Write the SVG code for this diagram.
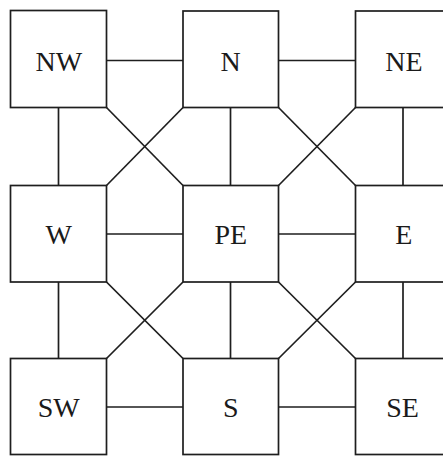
<svg xmlns="http://www.w3.org/2000/svg" width="443" height="456" viewBox="0 0 443 456">
<style>
.box{fill:#fff;stroke:#1e1e1e;stroke-width:1.7}
.lbl{font-family:"Liberation Serif","Times New Roman",serif;font-size:28px;fill:#1a1a1a;text-anchor:middle}
.c line{stroke:#1e1e1e;stroke-width:1.7}
</style>
<rect width="443" height="456" fill="#fff"/>
<g id="connectors" class="c">
<line x1="106.5" y1="60.5" x2="183" y2="60.5"/>
<line x1="278.5" y1="60.5" x2="355.5" y2="60.5"/>
<line x1="106.5" y1="234" x2="183" y2="234"/>
<line x1="278.5" y1="234" x2="355.5" y2="234"/>
<line x1="106.5" y1="407" x2="183" y2="407"/>
<line x1="278.5" y1="407" x2="355.5" y2="407"/>
<line x1="58.5" y1="107.5" x2="58.5" y2="185.5"/>
<line x1="230.5" y1="107.5" x2="230.5" y2="185.5"/>
<line x1="403" y1="107.5" x2="403" y2="185.5"/>
<line x1="58.5" y1="282" x2="58.5" y2="358.5"/>
<line x1="230.5" y1="282" x2="230.5" y2="358.5"/>
<line x1="403" y1="282" x2="403" y2="358.5"/>
<line x1="106.5" y1="107.5" x2="183" y2="185.5"/>
<line x1="183" y1="107.5" x2="106.5" y2="185.5"/>
<line x1="278.5" y1="107.5" x2="355.5" y2="185.5"/>
<line x1="355.5" y1="107.5" x2="278.5" y2="185.5"/>
<line x1="106.5" y1="282" x2="183" y2="358.5"/>
<line x1="183" y1="282" x2="106.5" y2="358.5"/>
<line x1="278.5" y1="282" x2="355.5" y2="358.5"/>
<line x1="355.5" y1="282" x2="278.5" y2="358.5"/>
</g>
<g id="NW"><rect class="box" x="10.5" y="10.5" width="96" height="97"/><text class="lbl" x="58.8" y="70.5">NW</text></g>
<g id="N"><rect class="box" x="183" y="11" width="95.5" height="96.5"/><text class="lbl" x="230.7" y="70.5">N</text></g>
<g id="NE"><rect class="box" x="355.5" y="11" width="100" height="96.5"/><text class="lbl" x="404" y="70.5">NE</text></g>
<g id="W"><rect class="box" x="10.5" y="185.5" width="96" height="96.5"/><text class="lbl" x="58.8" y="243.5">W</text></g>
<g id="PE"><rect class="box" x="183" y="185.5" width="95.5" height="96.5"/><text class="lbl" x="230.8" y="244">PE</text></g>
<g id="E"><rect class="box" x="355.5" y="185.5" width="100" height="96.5"/><text class="lbl" x="403.7" y="244">E</text></g>
<g id="SW"><rect class="box" x="10.5" y="358.5" width="96" height="96"/><text class="lbl" x="58.8" y="416.5">SW</text></g>
<g id="S"><rect class="box" x="183" y="358.5" width="95.5" height="96"/><text class="lbl" x="230.7" y="416.5">S</text></g>
<g id="SE"><rect class="box" x="355.5" y="358.5" width="100" height="96"/><text class="lbl" x="402.5" y="416.5">SE</text></g>
</svg>
